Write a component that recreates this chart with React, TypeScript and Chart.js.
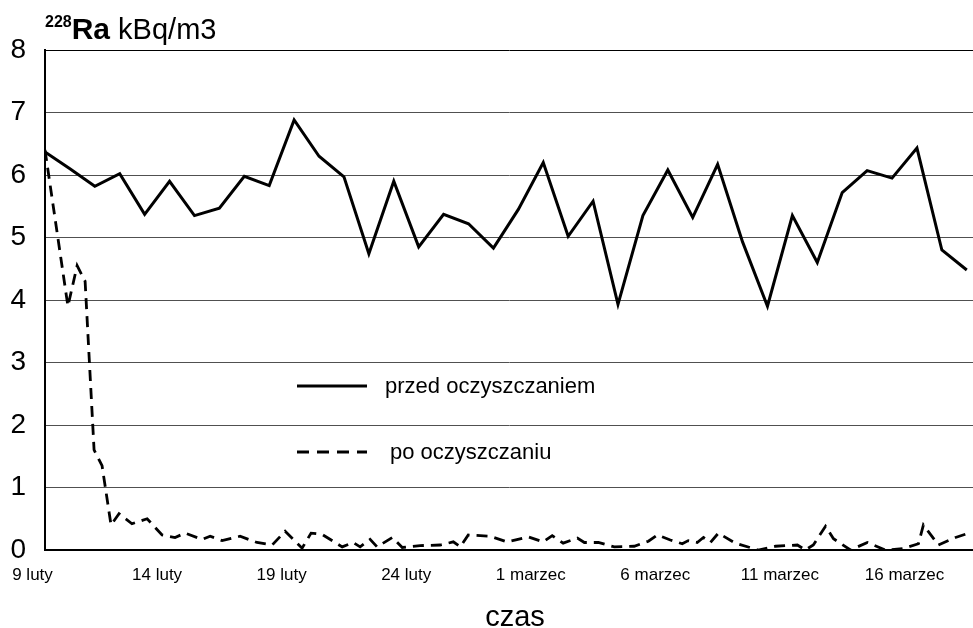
import React, { useEffect, useRef } from "react";
import { Chart, registerables } from "chart.js";

Chart.register(...registerables);

// Daily measurements before purification (day index 0 = 9 luty)
const beforeValues = [
  6.37, 6.1, 5.82, 6.02, 5.37, 5.9, 5.35, 5.47, 5.98, 5.83,
  6.88, 6.3, 5.97, 4.74, 5.9, 4.85, 5.37, 5.22, 4.83, 5.45,
  6.2, 5.02, 5.58, 3.93, 5.35, 6.08, 5.32, 6.17, 4.93, 3.9,
  5.35, 4.6, 5.72, 6.07, 5.95, 6.43, 4.8, 4.48,
];
const beforeDays = beforeValues.map((_, i) => i);

// Measurements after purification (days since 9 luty)
const afterDays = [
  0, 0.92, 1.29, 1.61, 1.97, 2.29, 2.65, 2.97, 3.49, 4.1,
  4.7, 5.22, 5.62, 6.31, 6.63, 7.11, 7.83, 8.51, 9.12, 9.64,
  10.32, 10.68, 11.12, 11.93, 12.37, 12.65, 13.05, 13.33, 13.94, 14.34,
  15.06, 15.86, 16.39, 16.67, 16.99, 17.87, 18.55, 19.4, 20.0, 20.36,
  20.8, 21.37, 21.65, 22.21, 22.85, 23.65, 24.22, 24.58, 25.1, 25.58,
  25.82, 26.18, 26.43, 26.71, 27.03, 27.71, 28.63, 29.32, 30.2, 30.52,
  30.84, 31.33, 31.65, 32.33, 33.01, 33.73, 34.42, 35.06, 35.26, 35.86,
  36.55, 37.15,
];
const afterValues = [
  6.4, 3.9, 4.55, 4.3, 1.6, 1.35, 0.4, 0.58, 0.42, 0.5,
  0.24, 0.2, 0.27, 0.17, 0.22, 0.15, 0.22, 0.12, 0.08, 0.3,
  0.03, 0.27, 0.25, 0.05, 0.12, 0.05, 0.17, 0.05, 0.2, 0.04,
  0.07, 0.08, 0.13, 0.05, 0.24, 0.22, 0.13, 0.21, 0.13, 0.23,
  0.11, 0.19, 0.12, 0.12, 0.05, 0.06, 0.14, 0.24, 0.16, 0.1,
  0.15, 0.12, 0.2, 0.12, 0.27, 0.11, 0.0, 0.06, 0.08, 0.0,
  0.08, 0.38, 0.18, 0.0, 0.12, 0.0, 0.02, 0.1, 0.4, 0.08,
  0.2, 0.28,
];

const tickDays = [0, 5, 10, 15, 20, 25, 30, 35];
const tickLabels = [
  "9 luty", "14 luty", "19 luty", "24 luty",
  "1 marzec", "6 marzec", "11 marzec", "16 marzec",
];
const seriesNames = ["przed oczyszczaniem", "po oczyszczaniu"];
const xTitle = "czas";
const yTitleIso = "228";
const yTitleEl = "Ra";
const yTitleUnit = " kBq/m3";

const FONT = "'Liberation Sans', Arial, sans-serif";

const overlayPlugin = {
  id: "overlay",
  afterDraw(chart: any) {
    const ctx = chart.ctx;
    const a = chart.chartArea;
    ctx.save();
    ctx.fillStyle = "#000";
    ctx.strokeStyle = "#000";
    // y-axis title
    ctx.textBaseline = "alphabetic";
    ctx.textAlign = "left";
    ctx.font = `bold 16px ${FONT}`;
    ctx.fillText(yTitleIso, 45, 27);
    let x = 45 + ctx.measureText(yTitleIso).width;
    ctx.font = `bold 30px ${FONT}`;
    ctx.fillText(yTitleEl, x, 39);
    x += ctx.measureText(yTitleEl).width;
    ctx.font = `29px ${FONT}`;
    ctx.fillText(yTitleUnit, x, 39);
    // x-axis title
    ctx.textAlign = "center";
    ctx.font = `29px ${FONT}`;
    ctx.fillText(xTitle, 515, 626);
    // legend
    const lx = a.left + 252;
    const rows = [
      { y: 386, dash: [] as number[], tx: lx + 88 },
      { y: 452, dash: [12, 8], tx: lx + 93 },
    ];
    rows.forEach((r, i) => {
      ctx.beginPath();
      ctx.setLineDash(r.dash);
      ctx.lineWidth = 3;
      ctx.moveTo(lx, r.y);
      ctx.lineTo(lx + 70, r.y);
      ctx.stroke();
      ctx.setLineDash([]);
      ctx.textAlign = "left";
      ctx.textBaseline = "middle";
      ctx.font = `22px ${FONT}`;
      ctx.fillText(seriesNames[i], r.tx, r.y + 1);
    });
    ctx.restore();
  },
};

export default function App() {
  const ref = useRef<HTMLCanvasElement | null>(null);
  useEffect(() => {
    if (!ref.current) return;
    const chart = new Chart(ref.current, {
      type: "line",
      data: {
        datasets: [
          {
            label: seriesNames[0],
            data: beforeDays.map((d, i) => ({ x: d, y: beforeValues[i] })),
            borderColor: "#000",
            borderWidth: 3,
            pointRadius: 0,
            tension: 0,
            fill: false,
          },
          {
            label: seriesNames[1],
            data: afterDays.map((d, i) => ({ x: d, y: afterValues[i] })),
            borderColor: "#000",
            borderWidth: 2.8,
            borderDash: [11, 7],
            pointRadius: 0,
            tension: 0,
            fill: false,
          },
        ],
      },
      options: {
        animation: false,
        responsive: true,
        maintainAspectRatio: false,
        layout: { padding: { top: 50, right: 0, left: 0, bottom: 0 } },
        plugins: {
          legend: { display: false },
          tooltip: { enabled: false },
          title: { display: false },
        },
        scales: {
          x: {
            type: "linear",
            min: 0,
            max: 37.25,
            afterBuildTicks: (scale: any) => {
              scale.ticks = tickDays.map((v) => ({ value: v }));
            },
            afterFit: (scale: any) => {
              scale.height = 78;
            },
            grid: { display: false, drawTicks: false },
            border: { display: true, color: "#000", width: 2 },
            ticks: {
              autoSkip: false,
              maxRotation: 0,
              padding: 15,
              labelOffset: -12.5,
              color: "#000",
              font: { family: FONT, size: 17 },
              callback: (_v: any, i: number) => tickLabels[i],
            },
          },
          y: {
            min: 0,
            max: 8,
            afterFit: (scale: any) => {
              scale.width = 45;
            },
            grid: {
              drawTicks: false,
              color: (c: any) => (c.tick && c.tick.value === 8 ? "#000" : "#505050"),
              lineWidth: 1,
            },
            border: { display: true, color: "#000", width: 2 },
            ticks: {
              stepSize: 1,
              padding: 19,
              color: "#000",
              font: { family: FONT, size: 28 },
            },
          },
        },
      },
      plugins: [overlayPlugin],
    } as any);
    return () => chart.destroy();
  }, []);
  return (
    <div style={{ position: "absolute", left: 0, top: 0, width: 973, height: 628, background: "#fff" }}>
      <canvas ref={ref} />
    </div>
  );
}
